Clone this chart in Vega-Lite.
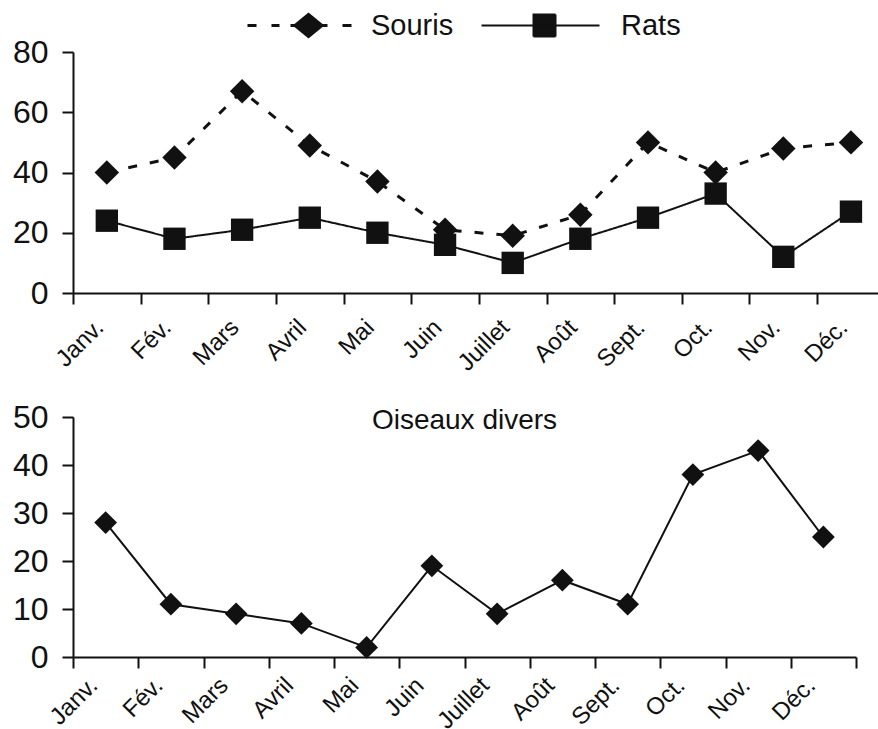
{
  "$schema": "https://vega.github.io/schema/vega-lite/v6.json",
  "padding": {"left": 12, "top": 11, "right": 0, "bottom": 0},
  "background": "white",
  "datasets": {
    "rongeurs": [
      {"mois": "Janv.", "num": 1, "espece": "Souris", "valeur": 40},
      {"mois": "Fév.", "num": 2, "espece": "Souris", "valeur": 45},
      {"mois": "Mars", "num": 3, "espece": "Souris", "valeur": 67},
      {"mois": "Avril", "num": 4, "espece": "Souris", "valeur": 49},
      {"mois": "Mai", "num": 5, "espece": "Souris", "valeur": 37},
      {"mois": "Juin", "num": 6, "espece": "Souris", "valeur": 21},
      {"mois": "Juillet", "num": 7, "espece": "Souris", "valeur": 19},
      {"mois": "Août", "num": 8, "espece": "Souris", "valeur": 26},
      {"mois": "Sept.", "num": 9, "espece": "Souris", "valeur": 50},
      {"mois": "Oct.", "num": 10, "espece": "Souris", "valeur": 40},
      {"mois": "Nov.", "num": 11, "espece": "Souris", "valeur": 48},
      {"mois": "Déc.", "num": 12, "espece": "Souris", "valeur": 50},
      {"mois": "Janv.", "num": 1, "espece": "Rats", "valeur": 24},
      {"mois": "Fév.", "num": 2, "espece": "Rats", "valeur": 18},
      {"mois": "Mars", "num": 3, "espece": "Rats", "valeur": 21},
      {"mois": "Avril", "num": 4, "espece": "Rats", "valeur": 25},
      {"mois": "Mai", "num": 5, "espece": "Rats", "valeur": 20},
      {"mois": "Juin", "num": 6, "espece": "Rats", "valeur": 16},
      {"mois": "Juillet", "num": 7, "espece": "Rats", "valeur": 10},
      {"mois": "Août", "num": 8, "espece": "Rats", "valeur": 18},
      {"mois": "Sept.", "num": 9, "espece": "Rats", "valeur": 25},
      {"mois": "Oct.", "num": 10, "espece": "Rats", "valeur": 33},
      {"mois": "Nov.", "num": 11, "espece": "Rats", "valeur": 12},
      {"mois": "Déc.", "num": 12, "espece": "Rats", "valeur": 27}
    ],
    "oiseaux": [
      {"mois": "Janv.", "num": 1, "valeur": 28},
      {"mois": "Fév.", "num": 2, "valeur": 11},
      {"mois": "Mars", "num": 3, "valeur": 9},
      {"mois": "Avril", "num": 4, "valeur": 7},
      {"mois": "Mai", "num": 5, "valeur": 2},
      {"mois": "Juin", "num": 6, "valeur": 19},
      {"mois": "Juillet", "num": 7, "valeur": 9},
      {"mois": "Août", "num": 8, "valeur": 16},
      {"mois": "Sept.", "num": 9, "valeur": 11},
      {"mois": "Oct.", "num": 10, "valeur": 38},
      {"mois": "Nov.", "num": 11, "valeur": 43},
      {"mois": "Déc.", "num": 12, "valeur": 25}
    ]
  },
  "config": {
    "view": {"stroke": null},
    "font": "Liberation Sans",
    "axis": {
      "domainColor": "#111", "domainWidth": 2,
      "tickColor": "#111", "tickWidth": 2, "tickSize": 11,
      "labelColor": "#111", "labelFont": "Liberation Sans",
      "grid": false, "title": null,
      "labelOverlap": false, "labelFlush": false, "labelBound": false
    },
    "concat": {"spacing": 25}
  },
  "vconcat": [
    {
      "width": 805,
      "height": 241,
      "data": {"name": "rongeurs"},
      "encoding": {
        "x": {
          "field": "num", "type": "quantitative",
          "scale": {"domain": [0.5, 12.4], "nice": false, "zero": false},
          "axis": {
            "values": [0.5, 1.5, 2.5, 3.5, 4.5, 5.5, 6.5, 7.5, 8.5, 9.5, 10.5, 11.5],
            "labelExpr": "['Janv.','Fév.','Mars','Avril','Mai','Juin','Juillet','Août','Sept.','Oct.','Nov.','Déc.',''][floor(datum.value)]",
            "labelAngle": -45, "labelAlign": "right", "labelBaseline": "top",
            "labelFontSize": 24, "labelOffset": 18, "labelPadding": 11
          }
        },
        "y": {
          "field": "valeur", "type": "quantitative",
          "scale": {"domain": [0, 80], "nice": false},
          "axis": {"values": [0, 20, 40, 60, 80], "labelFontSize": 32, "labelPadding": 14}
        }
      },
      "layer": [
        {
          "mark": {"type": "line"},
          "encoding": {
            "color": {
              "field": "espece", "type": "nominal",
              "scale": {"domain": ["Souris", "Rats"], "range": ["#111111", "#111111"]},
              "legend": {
                "values": ["Souris"],
                "orient": "none", "legendX": 205, "legendY": -41,
                "direction": "horizontal", "title": null,
                "labelFontSize": 29, "labelColor": "#111", "labelFont": "Liberation Sans",
                "symbolType": "M-4.5,0H-3.6M-2.1,0H-1.3M-0.2,0H3.5M5,0H5.9M1.6,-1.1L2.95,0L1.6,1.1L0.25,0Z",
                "symbolSize": 400, "symbolStrokeWidth": 3,
                "symbolFillColor": "#111", "symbolStrokeColor": "#111", "symbolOpacity": 1,
                "labelOffset": 64
              }
            },
            "strokeDash": {
              "field": "espece", "type": "nominal",
              "scale": {"domain": ["Rats", "Souris"], "range": [[1, 0], [9, 13]]},
              "legend": {
                "values": ["Rats"],
                "orient": "none", "legendX": 453, "legendY": -41,
                "direction": "horizontal", "title": null,
                "labelFontSize": 29, "labelColor": "#111", "labelFont": "Liberation Sans",
                "symbolType": "M-5.9,0H5.9M-0.7,-1.1H1.5V1.1H-0.7Z",
                "symbolSize": 400, "symbolStrokeWidth": 2,
                "symbolFillColor": "#111", "symbolStrokeColor": "#111", "symbolOpacity": 1,
                "labelOffset": 66
              }
            },
            "strokeWidth": {"condition": {"test": "datum.espece === 'Souris'", "value": 3}, "value": 2}
          }
        },
        {
          "mark": {"type": "point", "filled": true, "color": "#111", "opacity": 1},
          "encoding": {
            "shape": {"condition": {"test": "datum.espece === 'Souris'", "value": "diamond"}, "value": "square"},
            "size": {"condition": {"test": "datum.espece === 'Souris'", "value": 600}, "value": 500}
          }
        }
      ]
    },
    {
      "width": 783,
      "height": 240,
      "data": {"name": "oiseaux"},
      "title": {"text": "Oiseaux divers", "fontSize": 28, "fontWeight": "normal", "font": "Liberation Sans", "color": "#111", "offset": -34, "anchor": "middle"},
      "encoding": {
        "x": {
          "field": "num", "type": "quantitative",
          "scale": {"domain": [0.5, 12.5], "nice": false, "zero": false},
          "axis": {
            "values": [0.5, 1.5, 2.5, 3.5, 4.5, 5.5, 6.5, 7.5, 8.5, 9.5, 10.5, 11.5, 12.5],
            "labelExpr": "['Janv.','Fév.','Mars','Avril','Mai','Juin','Juillet','Août','Sept.','Oct.','Nov.','Déc.',''][floor(datum.value)]",
            "labelAngle": -45, "labelAlign": "right", "labelBaseline": "top",
            "labelFontSize": 24, "labelOffset": 12, "labelPadding": 5
          }
        },
        "y": {
          "field": "valeur", "type": "quantitative",
          "scale": {"domain": [0, 50], "nice": false},
          "axis": {"values": [0, 10, 20, 30, 40, 50], "labelFontSize": 32, "labelPadding": 14}
        }
      },
      "layer": [
        {"mark": {"type": "line", "color": "#111", "strokeWidth": 2}, "encoding": {}},
        {"mark": {"type": "point", "shape": "diamond", "filled": true, "color": "#111", "size": 520, "opacity": 1}, "encoding": {}}
      ]
    }
  ]
}
